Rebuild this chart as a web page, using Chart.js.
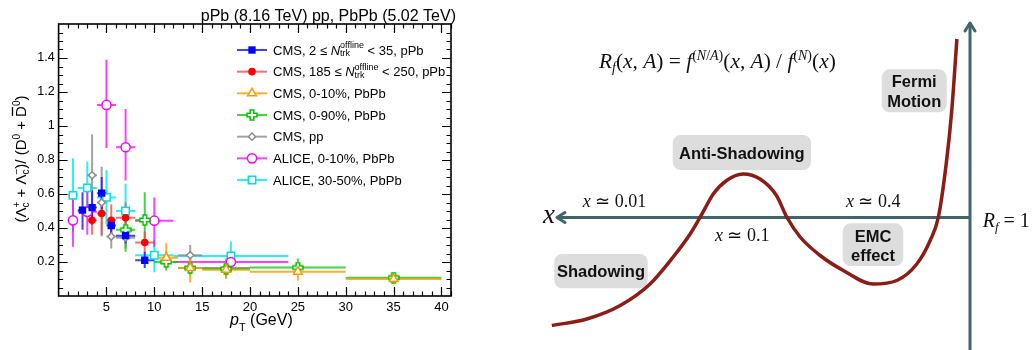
<!DOCTYPE html>
<html>
<head>
<meta charset="utf-8">
<script src="https://cdn.jsdelivr.net/npm/chart.js@4.4.1/dist/chart.umd.min.js"></script>
<style>
  body { margin: 0; background: #fff; }
  #wrap { position: relative; width: 1034px; height: 350px; overflow: hidden; }
  #left { position: absolute; left: 0; top: 0; }
  #right { position: absolute; left: 520px; top: 0; }
</style>
</head>
<body>
<div id="wrap">
  <canvas id="left" width="460" height="350"></canvas>
  <canvas id="right" width="514" height="350"></canvas>
</div>
<script>
// ---------- left panel data ----------
const xTicks = [5, 10, 15, 20, 25, 30, 35, 40];
const yTicks = [0.2, 0.4, 0.6, 0.8, 1, 1.2, 1.4];

// CMS, 2 <= N_trk < 35, pPb
const cmsLowPt    = [2.5, 3.5, 4.5, 5.5, 7, 9];
const cmsLowRatio = [0.505, 0.52, 0.605, 0.415, 0.355, 0.21];
const cmsLowPtLo  = [2, 3, 4, 5, 6, 8];
const cmsLowPtHi  = [3, 4, 5, 6, 8, 10];
const cmsLowErrLo = [0.39, 0.42, 0.51, 0.37, 0.31, 0.165];
const cmsLowErrHi = [0.61, 0.62, 0.70, 0.46, 0.41, 0.26];

// CMS, 185 <= N_trk < 250, pPb
const cmsHighPt    = [3.5, 4.5, 5.5, 7, 9];
const cmsHighRatio = [0.445, 0.485, 0.445, 0.46, 0.315];
const cmsHighPtLo  = [3, 4, 5, 6, 8];
const cmsHighPtHi  = [4, 5, 6, 8, 10];
const cmsHighErrLo = [0.36, 0.36, 0.36, 0.37, 0.25];
const cmsHighErrHi = [0.54, 0.63, 0.54, 0.55, 0.38];

// CMS, 0-10%, PbPb
const cms010Pt    = [11.25, 13.75, 17.5, 25, 35];
const cms010Ratio = [0.225, 0.165, 0.155, 0.143, 0.10];
const cms010PtLo  = [10, 12.5, 15, 20, 30];
const cms010PtHi  = [12.5, 15, 20, 30, 40];
const cms010ErrLo = [0.16, 0.08, 0.10, 0.09, 0.075];
const cms010ErrHi = [0.31, 0.25, 0.22, 0.19, 0.14];

// CMS, 0-90%, PbPb
const cms090Pt    = [7, 9, 11.25, 13.75, 17.5, 25, 35];
const cms090Ratio = [0.39, 0.447, 0.20, 0.165, 0.16, 0.167, 0.108];
const cms090PtLo  = [6, 8, 10, 12.5, 15, 20, 30];
const cms090PtHi  = [8, 10, 12.5, 15, 20, 30, 40];
const cms090ErrLo = [0.26, 0.30, 0.15, 0.12, 0.11, 0.14, 0.08];
const cms090ErrHi = [0.50, 0.61, 0.26, 0.21, 0.21, 0.22, 0.135];

// CMS, pp
const cmsPpPt    = [3.5, 4.5, 5.5, 7, 13.75, 17.5];
const cmsPpRatio = [0.71, 0.55, 0.35, 0.343, 0.24, 0.165];
const cmsPpPtLo  = [3, 4, 5, 6, 12.5, 15];
const cmsPpPtHi  = [4, 5, 6, 8, 15, 20];
const cmsPpErrLo = [0.47, 0.35, 0.28, 0.28, 0.18, 0.12];
const cmsPpErrHi = [0.95, 0.76, 0.42, 0.40, 0.30, 0.21];

// ALICE, 0-10%, PbPb
const alice010Pt    = [1.5, 3, 5, 7, 10, 18];
const alice010Ratio = [0.445, 0.495, 1.124, 0.875, 0.443, 0.20];
const alice010PtLo  = [1, 2, 4, 6, 8, 12];
const alice010PtHi  = [2, 4, 6, 8, 12, 24];
const alice010ErrLo = [0.29, 0.36, 0.87, 0.68, 0.29, 0.14];
const alice010ErrHi = [0.60, 0.63, 1.39, 1.10, 0.58, 0.26];

// ALICE, 30-50%, PbPb
const alice3050Pt    = [1.5, 3, 5, 7, 10, 18];
const alice3050Ratio = [0.592, 0.636, 0.58, 0.50, 0.24, 0.235];
const alice3050PtLo  = [1, 2, 4, 6, 8, 12];
const alice3050PtHi  = [2, 4, 6, 8, 12, 24];
const alice3050ErrLo = [0.38, 0.48, 0.42, 0.35, 0.14, 0.17];
const alice3050ErrHi = [0.81, 0.79, 0.74, 0.66, 0.33, 0.32];

// ---------- right panel data (schematic units) ----------
const curveX  = [6.2, 13.0, 19.5, 25.3, 29.8, 33.1, 35.4, 37.6, 40.2, 43.4, 46.7, 49.9,
                 51.9, 54.5, 58.4, 62.9, 68.7, 73.3, 77.2, 79.8, 81.4, 83.0, 84.0, 85.0];
const curveRf = [0.784, 0.797, 0.824, 0.867, 0.921, 0.967, 1.007, 1.047, 1.074, 1.087, 1.077, 1.044,
                 1.001, 0.961, 0.924, 0.894, 0.867, 0.874, 0.907, 0.954, 1.001, 1.114, 1.214, 1.357];

const SANS = '"Liberation Sans", Arial, Helvetica, sans-serif';
const SERIF = '"Liberation Serif", "Times New Roman", serif';

// ---------- small text helpers ----------
const T = (t, font, dy) => ({ t, font, dy: dy || 0 });
const S = (sup, sub, font, up, down) => ({ stack: [sup, sub], font, up, down });

function partWidth(ctx, p) {
  ctx.font = p.font;
  if (p.stack) return Math.max(ctx.measureText(p.stack[0]).width, ctx.measureText(p.stack[1]).width);
  return ctx.measureText(p.t).width;
}
function richWidth(ctx, parts) {
  return parts.reduce((w, p) => w + partWidth(ctx, p), 0);
}
function drawRich(ctx, x, y, parts) {
  for (const p of parts) {
    ctx.font = p.font;
    const w = partWidth(ctx, p);
    if (p.stack) {
      if (p.stack[0]) ctx.fillText(p.stack[0], x, y + p.up);
      if (p.stack[1]) ctx.fillText(p.stack[1], x, y + p.down);
    } else {
      ctx.fillText(p.t, x, y + p.dy);
      if (p.over) {
        ctx.save();
        ctx.lineWidth = 1.3;
        ctx.strokeStyle = ctx.fillStyle;
        ctx.beginPath();
        ctx.moveTo(x + 1, y + p.over);
        ctx.lineTo(x + w - 1, y + p.over);
        ctx.stroke();
        ctx.restore();
      }
    }
    x += w;
  }
  return x;
}

// open cross marker (ROOT style 34-like)
function crossMarker(color) {
  const c = document.createElement('canvas');
  c.width = c.height = 12;
  const g = c.getContext('2d');
  const m = 6, a = 5, b = 1.8;
  g.beginPath();
  g.moveTo(m - b, m - a); g.lineTo(m + b, m - a); g.lineTo(m + b, m - b);
  g.lineTo(m + a, m - b); g.lineTo(m + a, m + b); g.lineTo(m + b, m + b);
  g.lineTo(m + b, m + a); g.lineTo(m - b, m + a); g.lineTo(m - b, m + b);
  g.lineTo(m - a, m + b); g.lineTo(m - a, m - b); g.lineTo(m - b, m - b);
  g.closePath();
  g.fillStyle = '#fff';
  g.fill();
  g.strokeStyle = color;
  g.lineWidth = 1.5;
  g.stroke();
  return c;
}

const F13 = '13px ' + SANS;
const I13 = 'italic 13px ' + SANS;
const F9 = '9px ' + SANS;

const series = [
  { label: [T('CMS, 2 \u2264 ', F13), T('N', I13), S('offline', 'trk', F9, -6.5, 1.5), T(' < 35, pPb', F13)],
    pt: cmsLowPt, ratio: cmsLowRatio, ptLo: cmsLowPtLo, ptHi: cmsLowPtHi, errLo: cmsLowErrLo, errHi: cmsLowErrHi,
    color: '#0000ff', err: 'rgba(20,20,255,0.8)', style: 'rect', radius: 5.2, fill: true },
  { label: [T('CMS, 185 \u2264 ', F13), T('N', I13), S('offline', 'trk', F9, -6.5, 1.5), T(' < 250, pPb', F13)],
    pt: cmsHighPt, ratio: cmsHighRatio, ptLo: cmsHighPtLo, ptHi: cmsHighPtHi, errLo: cmsHighErrLo, errHi: cmsHighErrHi,
    color: '#ff0000', err: 'rgba(255,60,60,0.75)', style: 'circle', radius: 3.8, fill: true },
  { label: [T('CMS, 0-10%, PbPb', F13)],
    pt: cms010Pt, ratio: cms010Ratio, ptLo: cms010PtLo, ptHi: cms010PtHi, errLo: cms010ErrLo, errHi: cms010ErrHi,
    color: '#ff9900', err: 'rgba(255,153,0,0.8)', style: 'triangle', radius: 5, fill: false },
  { label: [T('CMS, 0-90%, PbPb', F13)],
    pt: cms090Pt, ratio: cms090Ratio, ptLo: cms090PtLo, ptHi: cms090PtHi, errLo: cms090ErrLo, errHi: cms090ErrHi,
    color: '#00c000', err: 'rgba(0,200,0,0.75)', style: crossMarker('#00c000'), radius: 5, fill: false },
  { label: [T('CMS, pp', F13)],
    pt: cmsPpPt, ratio: cmsPpRatio, ptLo: cmsPpPtLo, ptHi: cmsPpPtHi, errLo: cmsPpErrLo, errHi: cmsPpErrHi,
    color: '#8c8c8c', err: 'rgba(140,140,140,0.8)', style: 'rectRot', radius: 3.6, fill: false },
  { label: [T('ALICE, 0-10%, PbPb', F13)],
    pt: alice010Pt, ratio: alice010Ratio, ptLo: alice010PtLo, ptHi: alice010PtHi, errLo: alice010ErrLo, errHi: alice010ErrHi,
    color: '#ff00ff', err: 'rgba(255,0,255,0.75)', style: 'circle', radius: 4.6, fill: false },
  { label: [T('ALICE, 30-50%, PbPb', F13)],
    pt: alice3050Pt, ratio: alice3050Ratio, ptLo: alice3050PtLo, ptHi: alice3050PtHi, errLo: alice3050ErrLo, errHi: alice3050ErrHi,
    color: '#00dddd', err: 'rgba(0,240,240,0.85)', style: 'rect', radius: 5.2, fill: false }
];

// error bars, ROOT-like frame with inner ticks, legend and axis titles
const rootDecor = {
  id: 'rootDecor',
  beforeDatasetsDraw(chart) {
    const ctx = chart.ctx, xs = chart.scales.x, ys = chart.scales.y, a = chart.chartArea;
    ctx.save();
    ctx.beginPath();
    ctx.rect(a.left, a.top, a.right - a.left, a.bottom - a.top);
    ctx.clip();
    ctx.lineWidth = 2;
    for (let k = series.length - 1; k >= 0; k--) {
      const s = series[k];
      ctx.strokeStyle = s.err;
      s.pt.forEach((x, i) => {
        const px = xs.getPixelForValue(x), py = ys.getPixelForValue(s.ratio[i]);
        ctx.beginPath();
        ctx.moveTo(xs.getPixelForValue(s.ptLo[i]), py);
        ctx.lineTo(xs.getPixelForValue(s.ptHi[i]), py);
        ctx.moveTo(px, ys.getPixelForValue(s.errLo[i]));
        ctx.lineTo(px, ys.getPixelForValue(s.errHi[i]));
        ctx.stroke();
      });
    }
    ctx.restore();
  },
  afterDatasetsDraw(chart) {
    const ctx = chart.ctx, xs = chart.scales.x, ys = chart.scales.y, a = chart.chartArea;
    ctx.save();
    ctx.strokeStyle = '#000';
    ctx.lineWidth = 1.6;
    ctx.strokeRect(a.left, a.top, a.right - a.left, a.bottom - a.top);
    ctx.lineWidth = 1.2;
    ctx.beginPath();
    for (let v = 1; v <= 41; v++) {
      const len = v % 5 === 0 ? 9 : 4.5;
      const px = Math.round(xs.getPixelForValue(v)) + 0.5;
      ctx.moveTo(px, a.bottom); ctx.lineTo(px, a.bottom - len);
      ctx.moveTo(px, a.top); ctx.lineTo(px, a.top + len);
    }
    for (let n = 1; n <= 31; n++) {
      const v = n * 0.05;
      const len = n % 4 === 0 ? 9 : 4.5;
      const py = Math.round(ys.getPixelForValue(v)) + 0.5;
      ctx.moveTo(a.left, py); ctx.lineTo(a.left + len, py);
      ctx.moveTo(a.right, py); ctx.lineTo(a.right - len, py);
    }
    ctx.stroke();
    ctx.restore();
  },
  afterDraw(chart) {
    const ctx = chart.ctx;
    ctx.save();
    ctx.fillStyle = '#000';
    ctx.textBaseline = 'alphabetic';

    // title
    ctx.font = '16px ' + SANS;
    ctx.textAlign = 'right';
    ctx.fillText('pPb (8.16 TeV) pp, PbPb (5.02 TeV)', 456, 20.5);
    ctx.textAlign = 'left';

    // legend
    series.forEach((s, k) => {
      const y = 50 + k * 21.67;
      ctx.strokeStyle = s.err;
      ctx.lineWidth = 2;
      ctx.beginPath();
      ctx.moveTo(237, y); ctx.lineTo(267, y);
      ctx.stroke();
      ctx.strokeStyle = s.color;
      ctx.fillStyle = s.fill ? s.color : '#fff';
      ctx.lineWidth = 1.5;
      Chart.helpers.drawPoint(ctx, { pointStyle: s.style, radius: s.radius, rotation: 0, borderWidth: s.fill ? 0 : 1.5 }, 252, y);
      ctx.fillStyle = '#000';
      drawRich(ctx, 273, y + 4.7, s.label);
    });

    // x title
    ctx.fillStyle = '#000';
    drawRich(ctx, 230, 325, [T('p', 'italic 16px ' + SANS), T('T', '11px ' + SANS, 5.5), T(' (GeV)', '16px ' + SANS)]);

    // y title (rotated)
    const f15 = '15px ' + SANS, f10 = '10px ' + SANS;
    const yt = [T('(\u039b', f15), S('+', 'c', f10, -6.5, 3), T(' + \u039b', f15), S('\u2212', 'c', f10, -6.5, 3),
                T(')/ (D', f15), T('0', f10, -6.5), T(' + ', f15), Object.assign(T('D', f15), { over: -13.5 }),
                T('0', f10, -6.5), T(')', f15)];
    const w = richWidth(ctx, yt);
    ctx.translate(26, 159);
    ctx.rotate(-Math.PI / 2);
    drawRich(ctx, -w / 2, 0, yt);
    ctx.restore();
  }
};

new Chart(document.getElementById('left'), {
  type: 'scatter',
  data: {
    datasets: series.map(s => ({
      data: s.pt.map((x, i) => ({ x, y: s.ratio[i] })),
      pointStyle: s.style,
      pointRadius: s.radius,
      pointHoverRadius: s.radius,
      borderColor: s.color,
      backgroundColor: s.fill ? s.color : '#ffffff',
      pointBorderWidth: s.fill ? 0 : 1.5,
      showLine: false
    }))
  },
  options: {
    responsive: false,
    animation: false,
    layout: { padding: { left: 0, right: 9, top: 24, bottom: 0 } },
    plugins: { legend: { display: false }, tooltip: { enabled: false } },
    scales: {
      x: {
        type: 'linear', min: 0, max: 41,
        grid: { display: false, drawTicks: false },
        border: { display: false },
        afterBuildTicks: s => { s.ticks = xTicks.map(v => ({ value: v })); },
        afterFit: s => { s.height = 54; },
        ticks: { color: '#000', font: { family: SANS, size: 13 }, padding: 4, maxRotation: 0, autoSkip: false }
      },
      y: {
        type: 'linear', min: 0, max: 1.6,
        grid: { display: false, drawTicks: false },
        border: { display: false },
        afterBuildTicks: s => { s.ticks = yTicks.map(v => ({ value: v })); },
        afterFit: s => { s.width = 58.6; },
        ticks: { color: '#000', font: { family: SANS, size: 12.5 }, padding: 4, autoSkip: false,
                 callback: v => String(v) }
      }
    }
  },
  plugins: [rootDecor]
});

// ---------- right panel: schematic ----------
const AXIS = '#3f666d';
const hAxisX = [7.2, 87.55];
const vAxisRf = [0.735, 1.389];

const schemeDecor = {
  id: 'schemeDecor',
  beforeDatasetsDraw(chart) {
    const ctx = chart.ctx;
    ctx.save();
    ctx.fillStyle = '#dddddd';
    const boxes = [[361.7, 69.3, 65, 43], [152.7, 135, 138.3, 35], [322.7, 223.3, 60.6, 42.7], [34.3, 254, 93.4, 34.3]];
    boxes.forEach(b => {
      ctx.beginPath();
      ctx.roundRect(b[0], b[1], b[2], b[3], 8);
      ctx.fill();
    });
    ctx.restore();
  },
  afterDatasetsDraw(chart) {
    const ctx = chart.ctx, xs = chart.scales.x, ys = chart.scales.y;
    ctx.save();
    // arrow heads
    ctx.strokeStyle = AXIS;
    ctx.lineWidth = 3;
    ctx.lineCap = 'round';
    ctx.lineJoin = 'round';
    const lx = xs.getPixelForValue(hAxisX[0]), ly = ys.getPixelForValue(1);
    ctx.beginPath();
    ctx.moveTo(lx + 8, ly - 5); ctx.lineTo(lx, ly); ctx.lineTo(lx + 8, ly + 5);
    const tx = xs.getPixelForValue(hAxisX[1]), ty = ys.getPixelForValue(vAxisRf[1]);
    ctx.moveTo(tx - 5, ty + 8); ctx.lineTo(tx, ty); ctx.lineTo(tx + 5, ty + 8);
    ctx.stroke();

    // box labels
    ctx.fillStyle = '#111';
    ctx.textAlign = 'center';
    ctx.font = 'bold 16.5px ' + SANS;
    ctx.fillText('Fermi', 394.2, 87.3);
    ctx.fillText('Motion', 394.2, 106.7);
    ctx.fillText('Anti-Shadowing', 221.8, 159);
    ctx.fillText('EMC', 353, 241.7);
    ctx.fillText('effect', 353, 260.7);
    ctx.fillText('Shadowing', 81, 277.3);

    // serif math labels
    ctx.textAlign = 'left';
    const R = 'italic 21.4px ' + SERIF, N = '21.4px ' + SERIF, r = 'italic 14px ' + SERIF, n = '14px ' + SERIF;
    drawRich(ctx, 79, 68.3, [
      T('R', R), T('f', r, 4), T('(', N), T('x', R), T(', ', N), T('A', R), T(')', N), T(' = ', N),
      T('f', R), T('(', n, -8.5), T('N', r, -8.5), T('/', n, -8.5), T('A', r, -8.5), T(')', n, -8.5),
      T('(', N), T('x', R), T(', ', N), T('A', R), T(')', N), T(' / ', N),
      T('f', R), T('(', n, -8.5), T('N', r, -8.5), T(')', n, -8.5), T('(', N), T('x', R), T(')', N)
    ]);
    const X = 'italic 18px ' + SERIF, Y = '18px ' + SERIF;
    drawRich(ctx, 62.7, 206.7, [T('x', X), T(' \u2243 0.01', Y)]);
    drawRich(ctx, 195, 240.7, [T('x', X), T(' \u2243 0.1', Y)]);
    drawRich(ctx, 326, 206.7, [T('x', X), T(' \u2243 0.4', Y)]);
    drawRich(ctx, 23, 222.7, [T('x', 'italic 27px ' + SERIF)]);
    drawRich(ctx, 462.7, 226.7, [T('R', 'italic 20px ' + SERIF), T('f', 'italic 13px ' + SERIF, 4), T(' = 1', '20px ' + SERIF)]);
    ctx.restore();
  }
};

new Chart(document.getElementById('right'), {
  type: 'line',
  data: {
    datasets: [
      { data: curveX.map((x, i) => ({ x, y: curveRf[i] })), borderColor: '#8b1c16', borderWidth: 3.5,
        pointRadius: 0, cubicInterpolationMode: 'monotone', fill: false },
      { data: hAxisX.map(x => ({ x, y: 1 })), borderColor: AXIS, borderWidth: 3, pointRadius: 0 },
      { data: vAxisRf.map(y => ({ x: hAxisX[1], y })), borderColor: AXIS, borderWidth: 3, pointRadius: 0 }
    ]
  },
  options: {
    responsive: false,
    animation: false,
    layout: { padding: 0 },
    plugins: { legend: { display: false }, tooltip: { enabled: false } },
    scales: {
      x: { type: 'linear', min: 0, max: 100, display: false },
      y: { type: 'linear', min: 0.735, max: 1.435, display: false }
    }
  },
  plugins: [schemeDecor]
});
</script>
</body>
</html>
